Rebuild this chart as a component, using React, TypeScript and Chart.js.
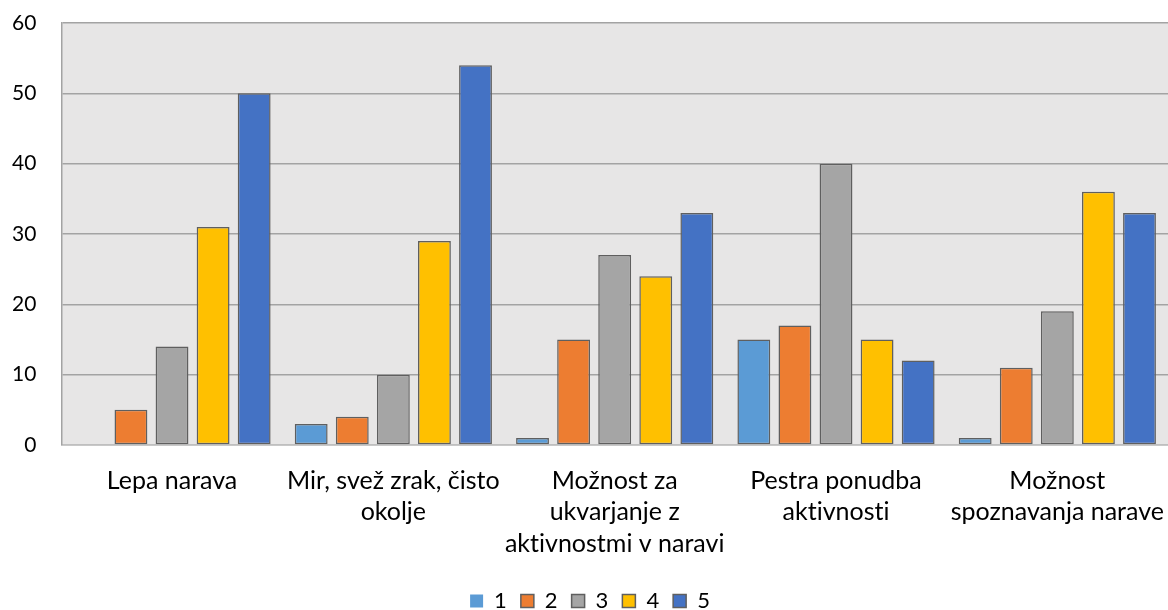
import React, { useEffect, useRef } from "react";
import { Chart, registerables } from "chart.js";

Chart.register(...registerables);

const categories: string[][] = [
  ["Lepa narava"],
  ["Mir, svež zrak, čisto", "okolje"],
  ["Možnost za", "ukvarjanje z", "aktivnostmi v naravi"],
  ["Pestra ponudba", "aktivnosti"],
  ["Možnost", "spoznavanja narave"],
];

const seriesNames = ["1", "2", "3", "4", "5"];
const series1 = [0, 3, 1, 15, 1];
const series2 = [5, 4, 15, 17, 11];
const series3 = [14, 10, 27, 40, 19];
const series4 = [31, 29, 24, 15, 36];
const series5 = [50, 54, 33, 12, 33];
const seriesColors = ["#5b9bd5", "#ed7d31", "#a5a5a5", "#ffc000", "#4472c4"];
const yTicks = [0, 10, 20, 30, 40, 50, 60];

const FONT = "Lato, 'Open Sans', sans-serif";

const plotBg = {
  id: "plotBg",
  beforeInit(chart: any) {
    chart.ctx.textRendering = "optimizeSpeed";
  },
  beforeDraw(chart: any) {
    const { ctx, chartArea } = chart;
    ctx.textRendering = "optimizeSpeed";
    ctx.save();
    ctx.fillStyle = "#e7e6e6";
    ctx.fillRect(chartArea.left, chartArea.top, chartArea.right - chartArea.left, chartArea.bottom - chartArea.top);
    ctx.restore();
  },
};

export default function App() {
  const ref = useRef<HTMLCanvasElement | null>(null);
  useEffect(() => {
    document.body.style.margin = "0";
    const all = [series1, series2, series3, series4, series5];
    const chart = new Chart(ref.current as HTMLCanvasElement, {
      type: "bar",
      data: {
        labels: categories,
        datasets: all.map((d, i) => ({
          label: seriesNames[i],
          data: d,
          backgroundColor: seriesColors[i],
          borderColor: "#5f5f5f",
          borderWidth: (c: any) => (c.raw === 0 ? 0 : 1.5),
          borderSkipped: false,
          categoryPercentage: 0.928,
          barPercentage: 0.8,
        })),
      },
      options: {
        animation: false,
        responsive: false,
        maintainAspectRatio: false,
        layout: { padding: { top: 23, left: 12, right: 0, bottom: -12 } },
        plugins: {
          tooltip: { enabled: false },
          legend: {
            position: "bottom",
            labels: {
              boxWidth: 13,
              boxHeight: 13,
              padding: 14,
              color: "#000",
              font: { family: FONT, size: 22 },
            },
          },
        },
        scales: {
          x: {
            grid: { display: false },
            border: { display: true, color: "#bfbfbf", width: 1.5 },
            afterFit: (scale: any) => {
              scale.paddingLeft = 0;
              scale.paddingRight = 0;
              scale.height = 131;
            },
            ticks: {
              color: "#000",
              padding: 12,
              maxRotation: 0,
              autoSkip: false,
              font: { family: FONT, size: 25, lineHeight: 1.26 },
            },
          },
          y: {
            min: 0,
            max: 60,
            afterBuildTicks: (axis: any) => {
              axis.ticks = yTicks.map((v) => ({ value: v }));
            },
            afterFit: (scale: any) => {
              scale.width -= 25;
              scale.paddingTop = 0;
              scale.paddingBottom = 0;
            },
            grid: { color: "#a3a3a3", lineWidth: 1.5, drawTicks: false },
            border: { display: true, color: "#a3a3a3", width: 1.5 },
            ticks: {
              color: "#000",
              padding: 25,
              font: { family: FONT, size: 21 },
            },
          },
        },
      },
      plugins: [plotBg],
    });
    return () => chart.destroy();
  }, []);
  return (
    <div style={{ position: "fixed", left: 0, top: 0, width: 1168, height: 610 }}>
      <canvas ref={ref} width={1168} height={610} style={{ width: 1168, height: 610 }} />
    </div>
  );
}
